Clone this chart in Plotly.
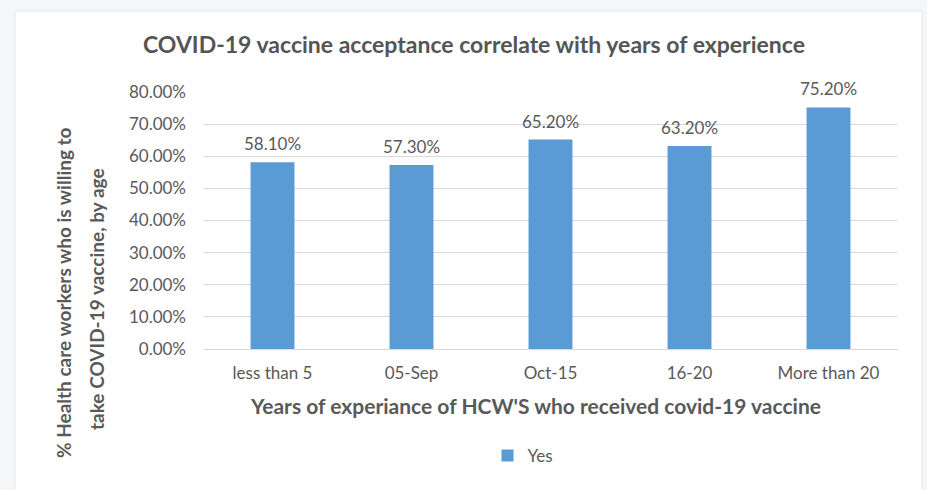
import plotly.graph_objects as go

# data
categories = ['less than 5', '05-Sep', 'Oct-15', '16-20', 'More than 20']
yes_values = [0.581, 0.573, 0.652, 0.632, 0.752]
y_ticks = [0, 0.1, 0.2, 0.3, 0.4, 0.5, 0.6, 0.7, 0.8]

title_text = 'COVID-19 vaccine acceptance correlate with years of experience'
x_title = "Years of experiance of HCW'S who received covid-19 vaccine"
y_title_1 = '% Health care workers who is willing to'
y_title_2 = 'take COVID-19 vaccine, by age'

W, H = 927, 490
L, R, T, B = 203, 29, 92, 141
pw, ph = W - L - R, H - T - B


def px_x(p):
    return (p - L) / pw


def px_y(p):
    return (H - B - p) / ph


grey = '#595959'
font = 'Lato, Carlito, Calibri, sans-serif'

fig = go.Figure()

fig.add_trace(go.Bar(
    x=categories,
    y=yes_values,
    name='Yes',
    marker=dict(color='#5b9bd5', line=dict(width=0)),
    width=0.316,
))

# data labels above the bars
for c, v in zip(categories, yes_values):
    fig.add_annotation(x=c, y=v, text=f'{v:.2%}', showarrow=False,
                       yanchor='bottom', yshift=6,
                       font=dict(family=font, size=17, color=grey))

# title
fig.add_annotation(xref='paper', yref='paper', x=px_x(474), y=px_y(44),
                   text=f'<b>{title_text}</b>', showarrow=False,
                   xanchor='center', yanchor='middle',
                   font=dict(family=font, size=23, color='#555555'))

# x axis title
fig.add_annotation(xref='paper', yref='paper', x=px_x(535), y=px_y(405),
                   text=f'<b>{x_title}</b>', showarrow=False,
                   xanchor='center', yanchor='middle',
                   font=dict(family=font, size=21, color=grey))

# y axis title, two lines
fig.add_annotation(xref='paper', yref='paper', x=px_x(63), y=px_y(293),
                   text=f'<b>{y_title_1}</b>', showarrow=False, textangle=-90,
                   xanchor='center', yanchor='middle',
                   font=dict(family=font, size=19, color=grey))
fig.add_annotation(xref='paper', yref='paper', x=px_x(96), y=px_y(299),
                   text=f'<b>{y_title_2}</b>', showarrow=False, textangle=-90,
                   xanchor='center', yanchor='middle',
                   font=dict(family=font, size=19, color=grey))

# white card on light grey page
fig.add_shape(type='rect', xref='paper', yref='paper', layer='below',
              x0=px_x(15), x1=px_x(922), y0=px_y(495), y1=px_y(11),
              fillcolor='white', line=dict(color='#e4e6ea', width=1))

fig.update_layout(
    width=W, height=H, autosize=False,
    margin=dict(l=L, r=R, t=T, b=B, pad=0),
    paper_bgcolor='#f5f6f8',
    plot_bgcolor='white',
    font=dict(family=font, color=grey),
    bargap=0.684,
    showlegend=True,
    legend=dict(orientation='h', xref='paper', yref='paper',
                x=px_x(523), y=px_y(456), xanchor='center', yanchor='middle',
                font=dict(family=font, size=17, color=grey),
                bgcolor='rgba(0,0,0,0)', itemwidth=30),
    xaxis=dict(showgrid=False, showline=False, ticks='',
               tickfont=dict(family=font, size=17, color=grey)),
    yaxis=dict(range=[0, 0.8], tickvals=y_ticks, tickformat='.2%',
               showgrid=True, gridcolor='#d9d9d9', gridwidth=1,
               zeroline=True, zerolinecolor='#d9d9d9', zerolinewidth=1,
               showline=False, ticks='', ticklen=0,
               tickfont=dict(family=font, size=17, color=grey)),
)
fig.update_yaxes(ticklabelstandoff=16)
fig.update_xaxes(ticklabelstandoff=12)

# the page's default body margin would shift the figure by 8px
fig.write_html('out.html', config={'displayModeBar': False},
               post_script="document.body.style.margin='0';"
                           "document.body.style.background='#f5f6f8';")
